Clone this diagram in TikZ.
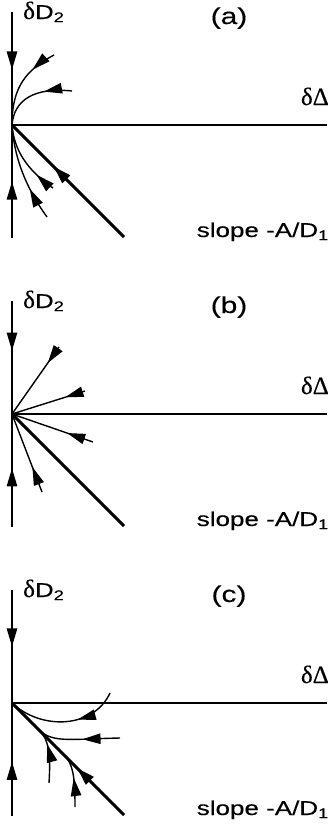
\documentclass[tikz,border=0pt]{standalone}
\usepackage{fontspec}
\setsansfont[FakeStretch=1.3,FakeBold=0.3]{Liberation Sans}
\newfontfamily\grk[FakeBold=0.3]{Liberation Serif}
\usetikzlibrary{arrows.meta,decorations.markings}

\tikzset{
  axis/.style={line width=1.5pt},
  slopeline/.style={line width=3pt},
  traj/.style={line width=1.4pt},
  midarrow/.style={postaction={decorate,decoration={markings,
      mark=at position #1 with {\arrow{Triangle[length=14pt,width=8pt,scale=1.3]}}}}},
  lbl/.style={font=\sffamily\fontsize{20}{22}\selectfont, inner sep=0pt}
}
\newcommand{\gk}[1]{{\grk\fontsize{25}{25}\selectfont #1}}

\begin{document}
\begin{tikzpicture}[x=1pt,y=-1pt]
  \useasboundingbox (0,0) rectangle (329,825);

  % axes, slope line and labels of the three panels
  \foreach \p/\lab/\dn/\up in {0/a/0.51/0.50, 1/b/0.44/0.52, 2/c/0.50/0.48} {
    \begin{scope}[shift={(12,125+289*\p)}]
      \coordinate (o\lab) at (0,0);
      \coordinate (top\lab) at (0,-113);
      \coordinate (bot\lab) at (0,113);
      \coordinate (right\lab) at (315,0);
      \coordinate (end\lab) at (112,112);
      \draw[axis, midarrow=\dn] (top\lab) -- (o\lab);
      \draw[axis, midarrow=\up] (bot\lab) -- (o\lab);
      \draw[axis] (o\lab) -- (right\lab);
      \node[lbl, anchor=base west] (dd\lab) at (11,-106) {\gk{δ}D\textsubscript{2}};
      \node[lbl, anchor=base, font=\sffamily\fontsize{23}{24}\selectfont] (tag\lab) at (217,-101) {(\lab)};
      \node[lbl, anchor=base east] (dx\lab) at (317,-20) {\gk{δΔ}};
      \node[lbl, anchor=base east] (sl\lab) at (317,112) {slope -A/D\textsubscript{1}};
    \end{scope}
  }

  % (a) curved approach, tangent to the vertical axis
  \begin{scope}[shift={(12,125)}]
    \draw[slopeline, midarrow=0.63] (enda) -- (oa);
    \draw[traj, midarrow=0.30] (42,-70) .. controls (14,-55) and (0,-38) .. (oa);
    \draw[traj, midarrow=0.36] (60,-34) .. controls (22,-38) and (2,-25) .. (oa);
    \draw[traj, midarrow=0.27] (41,63) .. controls (15,45) and (2,25) .. (oa);
    \draw[traj, midarrow=0.33] (35,92) .. controls (12,60) and (2,30) .. (oa);
  \end{scope}

  % (b) straight rays into the node
  \begin{scope}[shift={(12,414)}]
    \draw[slopeline] (ob) -- (endb);
    \draw[traj, midarrow=0.24] (47,-67) -- (ob);
    \draw[traj, midarrow=0.27] (73,-23) -- (ob);
    \draw[traj, midarrow=0.32] (81,28) -- (ob);
    \draw[traj, midarrow=0.32] (30,78) -- (ob);
  \end{scope}

  % (c) curves tangent to the slope line
  \begin{scope}[shift={(12,703)}]
    \draw[slopeline, midarrow=0.42] (endc) -- (oc);
    \draw[traj, midarrow=0.38] (98,-10) .. controls (82,25) and (30,28) .. (oc);
    \draw[traj, midarrow=0.31] (108,35) .. controls (60,36) and (42,40) .. (28,28) -- (oc);
    \draw[traj, midarrow=0.72] (37,80) .. controls (39,50) and (36,36) .. (28,28);
    \draw[traj, midarrow=0.58] (63,104) .. controls (63,80) and (62,65) .. (55,55);
  \end{scope}
\end{tikzpicture}
\end{document}
